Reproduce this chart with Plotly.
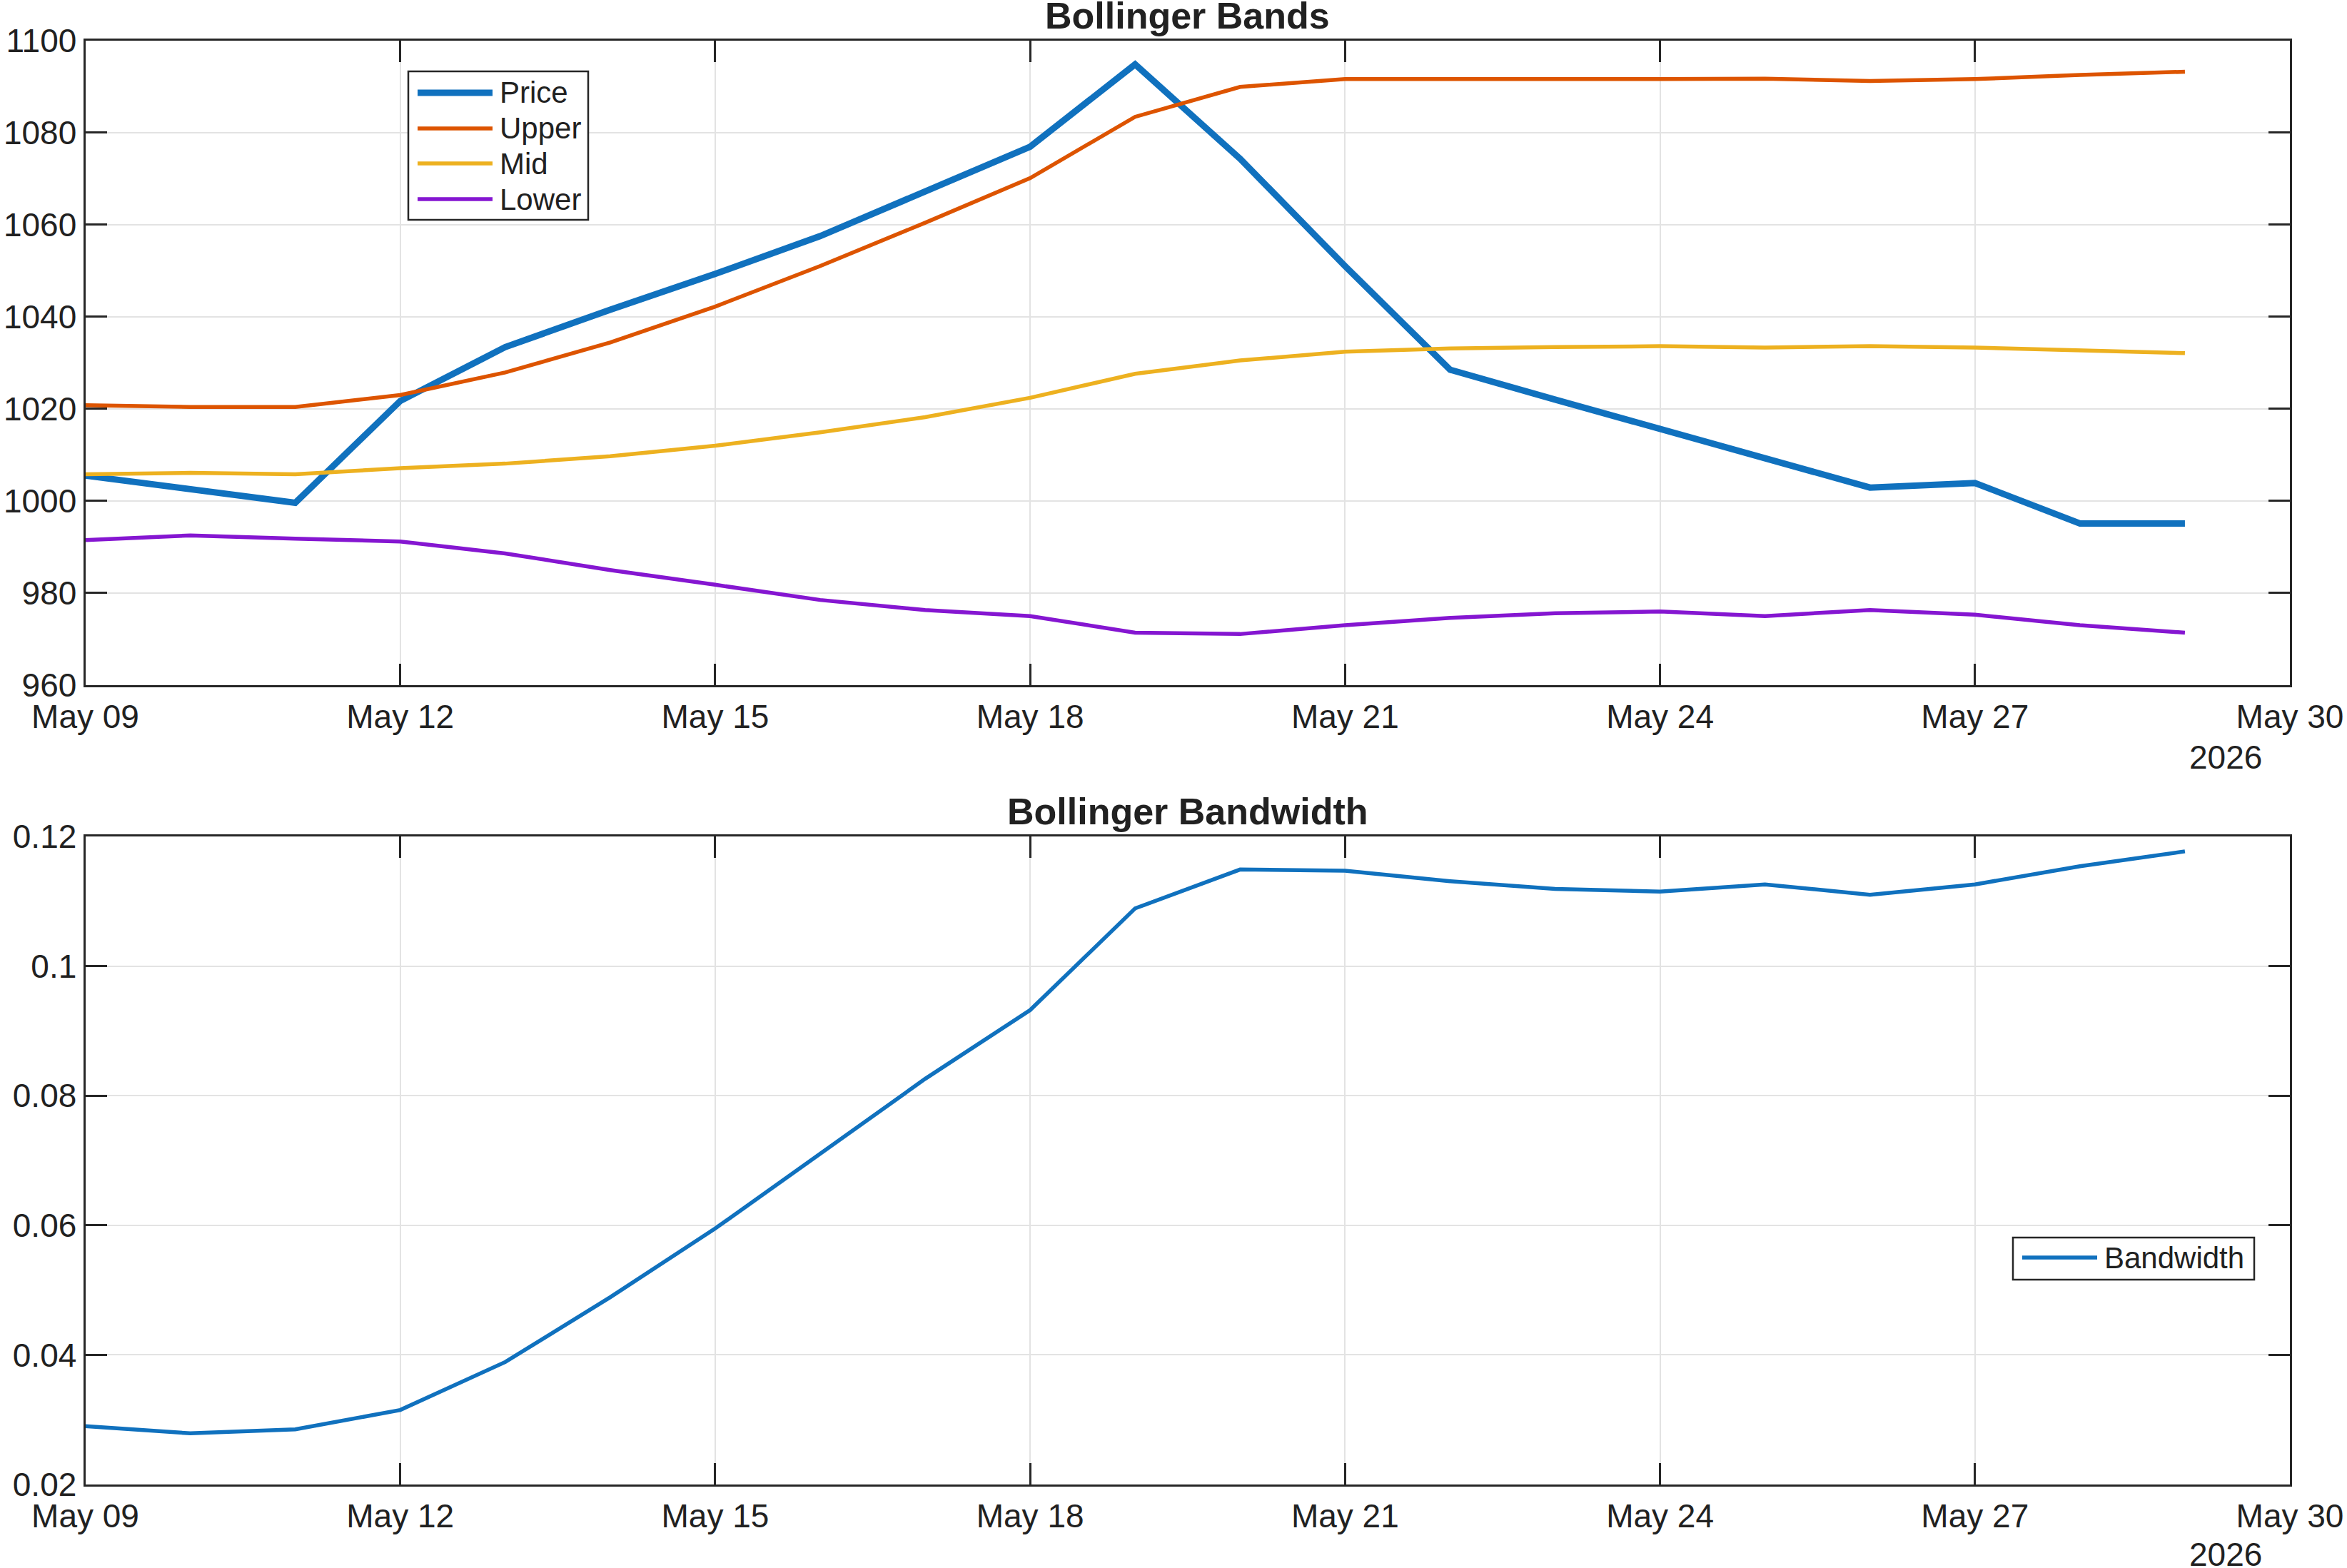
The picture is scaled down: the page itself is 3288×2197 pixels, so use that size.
import pandas as pd
import plotly.graph_objects as go

# ---------------- data ----------------
dates = [d.strftime("%Y-%m-%d") for d in pd.date_range("2026-05-09", "2026-05-29", freq="D")]

price = [1005.5, 1002.6, 999.6, 1021.7, 1033.4, 1041.5, 1049.3, 1057.5, 1067.2, 1076.9,
         1094.8, 1074.3, 1051.0, 1028.5, 1022.0, 1015.6, 1009.4, 1002.9, 1003.9, 995.1, 995.1]
upper = [1020.8, 1020.4, 1020.4, 1023.0, 1027.9, 1034.4, 1042.2, 1051.0, 1060.4, 1070.1,
         1083.4, 1089.9, 1091.6, 1091.7, 1091.6, 1091.6, 1091.7, 1091.2, 1091.6, 1092.5, 1093.2]
mid = [1005.8, 1006.1, 1005.8, 1007.1, 1008.1, 1009.7, 1012.0, 1014.9, 1018.2, 1022.4,
       1027.6, 1030.5, 1032.4, 1033.1, 1033.4, 1033.6, 1033.3, 1033.6, 1033.3, 1032.6, 1032.1]
lower = [991.5, 992.5, 991.8, 991.2, 988.6, 985.0, 981.8, 978.5, 976.3, 975.0,
         971.4, 971.1, 973.0, 974.6, 975.6, 976.0, 975.0, 976.3, 975.3, 973.0, 971.4]
bandwidth = [0.0290, 0.0279, 0.0285, 0.0315, 0.0389, 0.0489, 0.0595, 0.0710, 0.0826, 0.0932,
             0.1089, 0.1149, 0.1147, 0.1131, 0.1119, 0.1115, 0.1126, 0.1110, 0.1126, 0.1154, 0.1177]

series_names = ["Price", "Upper", "Mid", "Lower"]
colors = ["#1071BE", "#DD5400", "#EDB120", "#8516D1"]
widths = [9, 5.5, 5.5, 5.5]

W, H = 3288, 2197
FONT = "Liberation Sans, Arial, sans-serif"
TXT = "#212121"
AX = "#262626"
GRID = "#E3E3E3"


def px(x):
    return x / W


def py(y):
    return 1 - y / H


left, right = 119.5, 3208
top1, bot1 = 56.6, 960
top2, bot2 = 1172, 2080

fig = go.Figure()
for name, ys, c, w in zip(series_names, [price, upper, mid, lower], colors, widths):
    fig.add_trace(go.Scatter(x=dates, y=ys, mode="lines", name=name,
                             line=dict(color=c, width=w), xaxis="x", yaxis="y",
                             showlegend=False))
fig.add_trace(go.Scatter(x=dates, y=bandwidth, mode="lines", name="Bandwidth",
                         line=dict(color=colors[0], width=5.5), xaxis="x2", yaxis="y2",
                         showlegend=False))

xcommon = dict(type="date", range=["2026-05-09", "2026-05-30"], tick0="2026-05-09",
               dtick=3 * 86400000, tickformat="%b %d", showgrid=True, gridcolor=GRID,
               gridwidth=2, ticks="inside", ticklen=30, tickwidth=2.5, tickcolor=AX,
               showline=True, linecolor=AX, linewidth=3, mirror="ticks",
               tickfont=dict(family=FONT, size=46, color=TXT), ticklabelstandoff=2,
               zeroline=False, automargin=False, domain=[px(left), px(right)])
ycommon = dict(showgrid=True, gridcolor=GRID, gridwidth=2, ticks="inside", ticklen=30,
               tickwidth=2.5, tickcolor=AX, showline=True, linecolor=AX, linewidth=3,
               mirror="ticks", tickfont=dict(family=FONT, size=46, color=TXT),
               ticklabelstandoff=0, zeroline=False, automargin=False)

fig.update_layout(
    width=W, height=H, margin=dict(l=0, r=0, t=0, b=0, autoexpand=False),
    paper_bgcolor="white", plot_bgcolor="white",
    xaxis=dict(xcommon, anchor="y"),
    yaxis=dict(ycommon, range=[960, 1100], dtick=20, tick0=960,
               domain=[py(bot1), py(top1)], anchor="x"),
    xaxis2=dict(xcommon, anchor="y2"),
    yaxis2=dict(ycommon, range=[0.02, 0.12], dtick=0.02, tick0=0.02,
                domain=[py(bot2), py(top2)], anchor="x2"),
    showlegend=False,
)

# titles
cx = px((left + right) / 2)
fig.add_annotation(text="<b>Bollinger Bands</b>", x=cx, y=py(top1), xref="paper", yref="paper",
                   xanchor="center", yanchor="bottom", showarrow=False, yshift=4,
                   font=dict(family=FONT, size=52, color=TXT))
fig.add_annotation(text="<b>Bollinger Bandwidth</b>", x=cx, y=py(top2), xref="paper", yref="paper",
                   xanchor="center", yanchor="bottom", showarrow=False, yshift=4,
                   font=dict(family=FONT, size=52, color=TXT))
# year labels
for yy in (1061, 2178):
    fig.add_annotation(text="2026", x=px(3171), y=py(yy), xref="paper", yref="paper",
                       xanchor="right", yanchor="middle", showarrow=False,
                       font=dict(family=FONT, size=46, color=TXT))

# custom legends
shapes = []


def legend(box, rows):
    x0, y0, x1, y1 = box
    shapes.append(dict(type="rect", xref="paper", yref="paper", x0=px(x0), x1=px(x1),
                       y0=py(y1), y1=py(y0), line=dict(color=AX, width=2.5),
                       fillcolor="white", layer="above"))
    for (label, c, w, ly, lx0, lx1, tx) in rows:
        shapes.append(dict(type="line", xref="paper", yref="paper", x0=px(lx0), x1=px(lx1),
                           y0=py(ly), y1=py(ly), line=dict(color=c, width=w), layer="above"))
        fig.add_annotation(text=label, x=px(tx), y=py(ly), xref="paper", yref="paper",
                           xanchor="left", yanchor="middle", showarrow=False,
                           font=dict(family=FONT, size=42, color=TXT))


legend((572, 100, 824, 308),
       [(n, c, w, y, 585, 690, 698) for n, c, w, y in
        zip(series_names, colors, widths, [130, 180, 229, 279])])
legend((2820, 1734, 3158, 1793), [("Bandwidth", colors[0], 5.5, 1762, 2833, 2938, 2946)])

fig.update_layout(shapes=shapes)
fig.write_html("out.html")
